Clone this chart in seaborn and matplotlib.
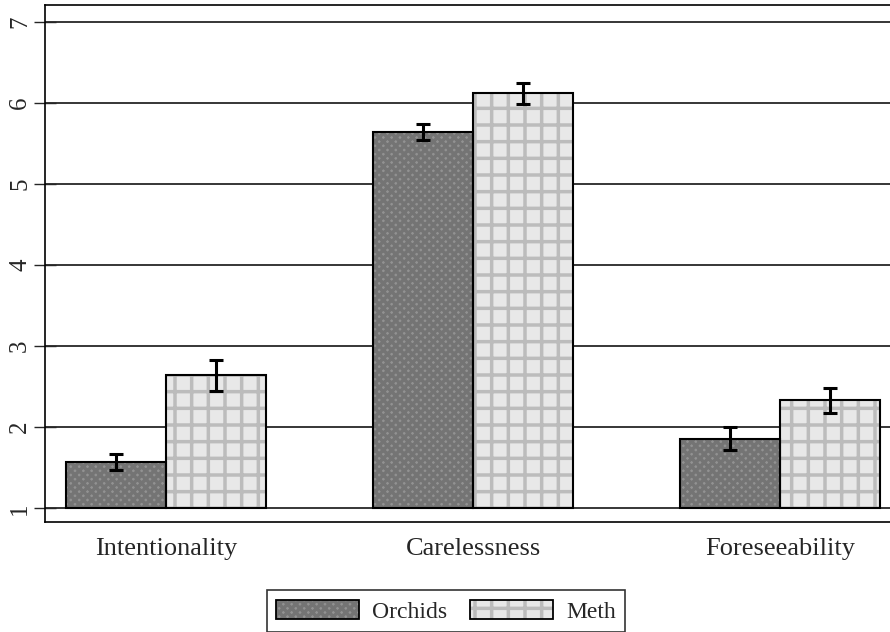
import numpy as np
import pandas as pd
import matplotlib
matplotlib.use("Agg")
import matplotlib.pyplot as plt
import seaborn as sns
from matplotlib.patches import Rectangle
from matplotlib.legend_handler import HandlerTuple

categories = ["Intentionality", "Carelessness", "Foreseeability"]
groups = ["Orchids", "Meth"]
orchids_mean = [1.57, 5.64, 1.86]
meth_mean = [2.64, 6.12, 2.33]
orchids_err = [0.10, 0.10, 0.14]
meth_err = [0.19, 0.13, 0.15]
baseline = 1

fills = {"Orchids": "#929292", "Meth": "#e8e8e8"}
hatches = {"Orchids": "xxxx", "Meth": "+"}
hatch_cols = {"Orchids": "#747474", "Meth": "#bcbcbc"}

df = pd.DataFrame({
    "category": categories * 2,
    "group": ["Orchids"] * 3 + ["Meth"] * 3,
    "value": orchids_mean + meth_mean,
})
errs = {"Orchids": orchids_err, "Meth": meth_err}

sns.set_style("white")
plt.rcParams["font.family"] = ["Liberation Serif", "DejaVu Serif"]
plt.rcParams["hatch.linewidth"] = 2.5

fig = plt.figure(figsize=(8.9, 6.32), dpi=100)
ax = fig.add_axes([0.0506, 0.174, 0.9494, 0.818])

sns.barplot(data=df, x="category", y="value", hue="group", order=categories,
            hue_order=groups, palette=fills, errorbar=None, width=0.65,
            saturation=1, ax=ax, zorder=3, legend=False)

bar_conts = list(ax.containers)
for cont, g in zip(bar_conts, groups):
    xs, ys = [], []
    for p in cont.patches:
        top = p.get_y() + p.get_height()
        # bars rise from the baseline of the scale (1)
        p.set_y(baseline)
        p.set_height(top - baseline)
        p.set_hatch(hatches[g])
        p.set_edgecolor(hatch_cols[g])
        p.set_linewidth(0)
        ax.add_patch(Rectangle(p.get_xy(), p.get_width(), p.get_height(),
                               fill=False, ec="black", lw=1.5, zorder=4))
        xs.append(p.get_x() + p.get_width() / 2)
        ys.append(top)
    ax.errorbar(xs, ys, yerr=errs[g], fmt="none", ecolor="black",
                elinewidth=2.2, capsize=5, capthick=2.2, zorder=5)

ax.set_xlim(-0.394, 2.358)
ax.set_ylim(0.83, 7.21)
ax.set_yticks(range(1, 8))
ax.set_yticklabels([str(i) for i in range(1, 8)], rotation=90, va="center", fontsize=18)
ax.yaxis.grid(True, color="black", lw=1.1, zorder=0)
ax.set_axisbelow(True)
ax.tick_params(axis="y", left=True, direction="inout", length=16, width=1, pad=2)
ax.tick_params(axis="x", bottom=False, labelsize=19, pad=8)
ax.set_xlabel("")
ax.set_ylabel("")
for s in ["left", "top", "bottom"]:
    ax.spines[s].set_color("black")
    ax.spines[s].set_linewidth(1.2)
ax.spines["right"].set_visible(False)

# hatched swatch + black outline stacked in one legend key
handles = [(Rectangle((0, 0), 1, 1, facecolor=fills[g], hatch=hatches[g],
                      edgecolor=hatch_cols[g], lw=0),
            Rectangle((0, 0), 1, 1, fill=False, edgecolor="black", lw=1.3))
           for g in groups]
leg = fig.legend(handles, groups, loc="upper center", bbox_to_anchor=(0.501, 0.066),
                 ncol=2, frameon=True, fancybox=False, edgecolor="black",
                 fontsize=17, handlelength=3.5, handleheight=0.9, columnspacing=1.0,
                 borderpad=0.4, handletextpad=0.55, borderaxespad=0,
                 handler_map={tuple: HandlerTuple(ndivide=1, pad=0)})
leg.get_frame().set_linewidth(1.2)

fig.savefig("out.png", dpi=100)
